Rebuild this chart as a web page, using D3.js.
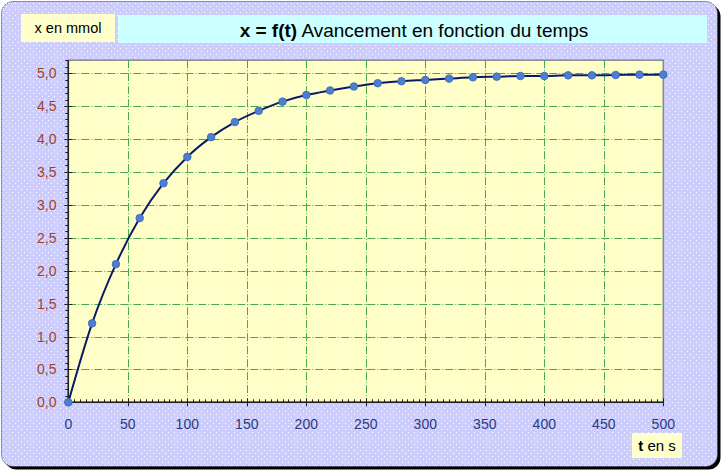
<!DOCTYPE html>
<html><head><meta charset="utf-8">
<script src="https://cdn.jsdelivr.net/npm/d3@7"></script>
<style>html,body{margin:0;padding:0;background:#fff;}svg{display:block;font-family:"Liberation Sans",Arial,sans-serif;}</style>
</head><body>
<svg id="chart" width="724" height="474"></svg>
<script>
const times = [0,20,40,60,80,100,120,140,160,180,200,220,240,260,280,300,320,340,360,380,400,420,440,460,480,500];
const xValues = [0,1.2,2.1,2.8,3.33,3.73,4.03,4.26,4.43,4.57,4.67,4.74,4.8,4.85,4.88,4.9,4.92,4.94,4.95,4.96,4.96,4.97,4.97,4.975,4.98,4.98];
const xTicks = [0,50,100,150,200,250,300,350,400,450,500];
const yTicks = [0,0.5,1,1.5,2,2.5,3,3.5,4,4.5,5];
const titleBold = "x = f(t)";
const titleRest = " Avancement en fonction du temps";
const yLabel = "x en mmol";
const xLabelBold = "t";
const xLabelRest = " en s";

const svg = d3.select("#chart");
const defs = svg.append("defs");
const pat = defs.append("pattern").attr("id","dots").attr("width",6).attr("height",6).attr("patternUnits","userSpaceOnUse");
pat.append("rect").attr("width",6).attr("height",6).attr("fill","#ccccff");
pat.append("rect").attr("x",0).attr("y",0).attr("width",1).attr("height",1).attr("fill","#ffffff");
pat.append("rect").attr("x",3).attr("y",3).attr("width",1).attr("height",1).attr("fill","#ffffff");
const pat2 = defs.append("pattern").attr("id","dots2").attr("width",6).attr("height",6).attr("patternUnits","userSpaceOnUse");
pat2.append("rect").attr("width",6).attr("height",6).attr("fill","#ffffc4");
pat2.append("rect").attr("x",0).attr("y",0).attr("width",1).attr("height",1).attr("fill","#ffffee");
pat2.append("rect").attr("x",3).attr("y",3).attr("width",1).attr("height",1).attr("fill","#ffffee");

// outer frame with shadow
svg.append("rect").attr("x",4.5).attr("y",4.5).attr("width",716).attr("height",465).attr("rx",12).attr("fill","#000");
svg.append("rect").attr("x",1.5).attr("y",1.5).attr("width",716).attr("height",465).attr("rx",12)
  .attr("fill","url(#dots)").attr("stroke","#333").attr("stroke-width",1).attr("stroke-dasharray","1,1");

// label boxes
svg.append("rect").attr("x",21).attr("y",14).attr("width",94).attr("height",28).attr("fill","#ffffcc");
svg.append("text").attr("x",68).attr("y",33).attr("text-anchor","middle").attr("font-size",14.5).attr("fill","#000").text(yLabel);
svg.append("rect").attr("x",118).attr("y",15).attr("width",589).attr("height",28).attr("fill","#ccffff");
const tt = svg.append("text").attr("x",414).attr("y",36.5).attr("text-anchor","middle").attr("font-size",19).attr("fill","#000");
tt.append("tspan").attr("font-weight","bold").text(titleBold);
tt.append("tspan").text(titleRest);
svg.append("rect").attr("x",632).attr("y",433).attr("width",50).attr("height",25).attr("fill","#ffffcc");
const xl = svg.append("text").attr("x",657).attr("y",451).attr("text-anchor","middle").attr("font-size",15).attr("fill","#000");
xl.append("tspan").attr("font-weight","bold").text(xLabelBold);
xl.append("tspan").text(xLabelRest);

// scales
const x = d3.scaleLinear().domain([0,500]).range([68.3,663.3]);
const y = d3.scaleLinear().domain([0,5.2]).range([402.3,60.2]);

// plot area
svg.append("rect").attr("x",x(0)).attr("y",y(5.2)).attr("width",x(500)-x(0)).attr("height",y(0)-y(5.2))
  .attr("fill","url(#dots2)").attr("stroke","#888").attr("stroke-width",1.5);

// grid
const grid = svg.append("g").attr("stroke","#4aa84a").attr("stroke-width",1).attr("stroke-dasharray","8,2,1,2");
grid.selectAll(".hg").data(yTicks.filter(d=>d>0)).join("line")
  .attr("x1",x(0)).attr("x2",x(500)).attr("y1",d=>Math.round(y(d))+0.5).attr("y2",d=>Math.round(y(d))+0.5);
grid.selectAll(".vg").data(xTicks.filter(d=>d>0 && d<500)).join("line")
  .attr("y1",y(5.2)).attr("y2",y(0)).attr("x1",d=>Math.round(x(d))+0.5).attr("x2",d=>Math.round(x(d))+0.5);

// axes
const yMinor = d3.range(0,5.21,0.1);
const xMinor = d3.range(0,501,5);
const axG = svg.append("g").attr("stroke","#222").attr("stroke-width",1);
axG.selectAll(".ym").data(yMinor).join("line")
  .attr("x1",x(0)-3).attr("x2",x(0)).attr("y1",d=>Math.round(y(d))+0.5).attr("y2",d=>Math.round(y(d))+0.5);
axG.selectAll(".yM").data(yTicks).join("line")
  .attr("x1",x(0)-4).attr("x2",x(0)+4).attr("y1",d=>Math.round(y(d))+0.5).attr("y2",d=>Math.round(y(d))+0.5);
axG.selectAll(".xm").data(xMinor).join("line")
  .attr("y1",y(0)-3).attr("y2",y(0)).attr("x1",d=>Math.round(x(d))+0.5).attr("x2",d=>Math.round(x(d))+0.5);
axG.selectAll(".xM").data(xTicks).join("line")
  .attr("y1",y(0)-4).attr("y2",y(0)+4).attr("x1",d=>Math.round(x(d))+0.5).attr("x2",d=>Math.round(x(d))+0.5);
svg.append("line").attr("x1",x(0)).attr("x2",x(0)).attr("y1",y(5.2)).attr("y2",y(0)).attr("stroke","#222").attr("stroke-width",1.5);
svg.append("line").attr("x1",x(0)).attr("x2",x(500)).attr("y1",y(0)).attr("y2",y(0)).attr("stroke","#222").attr("stroke-width",1.5);

const fmt = d3.format(".1f");
svg.append("g").selectAll("text").data(yTicks).join("text")
  .attr("x",56.5).attr("y",d=>y(d)+5).attr("text-anchor","end").attr("font-size",14).attr("fill","#a0402a")
  .text(d=>fmt(d).replace(".",","));
svg.append("g").selectAll("text").data(xTicks).join("text")
  .attr("x",d=>x(d)).attr("y",428.5).attr("text-anchor","middle").attr("font-size",14).attr("fill","#2a3a80")
  .text(d=>d);

// curve
const pts = times.map((t,i)=>[t,xValues[i]]);
svg.append("path").datum(pts)
  .attr("d",d3.line().x(d=>x(d[0])).y(d=>y(d[1])).curve(d3.curveCardinal))
  .attr("fill","none").attr("stroke","#0a1a66").attr("stroke-width",2);
svg.append("g").selectAll("circle").data(pts).join("circle")
  .attr("cx",d=>x(d[0])).attr("cy",d=>y(d[1])).attr("r",3.8)
  .attr("fill","#4c7fd0").attr("stroke","#3a66b8").attr("stroke-width",0.8);
</script>
</body></html>
